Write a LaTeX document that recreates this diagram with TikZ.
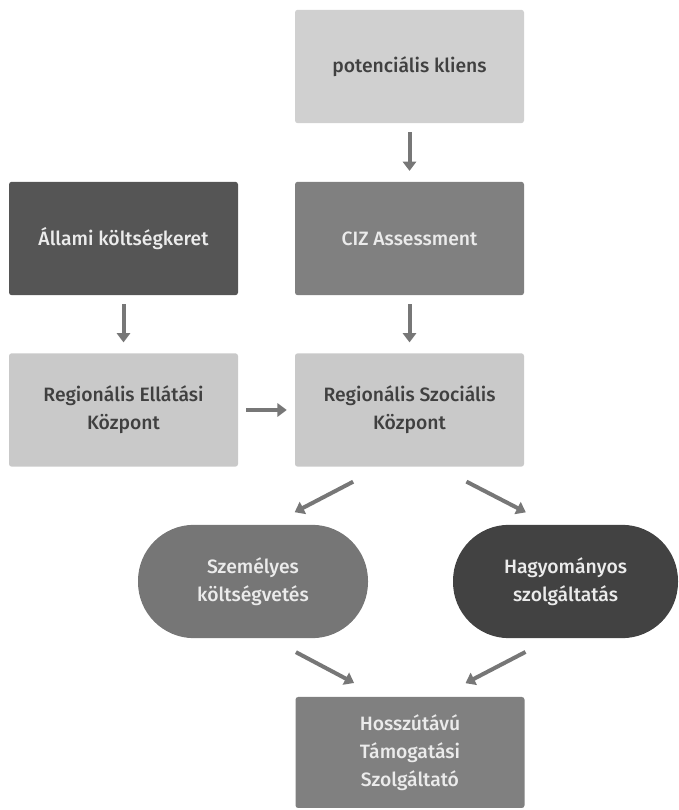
\documentclass[tikz,border=0pt]{standalone}
\usepackage{fontspec}
\setmainfont{Fira Sans}[UprightFont={* Medium}]
\usepackage{xcolor}
\usepackage{tikz}
\usetikzlibrary{arrows.meta,calc}
\definecolor{ClientGray}{RGB}{208,208,208}
\definecolor{PaleGray}{RGB}{201,201,201}
\definecolor{MidGray}{RGB}{128,128,128}
\definecolor{OvalGray}{RGB}{118,118,118}
\definecolor{DarkGray}{RGB}{85,85,85}
\definecolor{CoalGray}{RGB}{66,66,66}
\definecolor{ArrowGray}{RGB}{119,119,119}
\definecolor{InkGray}{RGB}{64,64,64}
\tikzset{
  flowbox/.style={rounded corners=2pt, minimum width=171.75pt, minimum height=85pt,
    inner sep=2pt, align=center, font=\fontsize{14.5}{21}\selectfont},
  lightbox/.style={flowbox, fill=ClientGray, text=InkGray},
  palebox/.style={flowbox, fill=PaleGray, text=InkGray},
  midbox/.style={flowbox, fill=MidGray, text=white!92!black},
  darkbox/.style={flowbox, fill=DarkGray, text=white!92!black},
  pill/.style={flowbox, rounded corners=42pt, text=white!92!black},
  flowarr/.style={-{Triangle[length=7pt,width=10pt]}, line width=3pt, ArrowGray},
}
\begin{document}
\begin{tikzpicture}[x=0.75pt, y=0.75pt]
  \useasboundingbox (0,0) rectangle (678,810);
  % boxes
  \node[lightbox] (kliens) at (409.5,743.5) {potenciális kliens};
  \node[darkbox] (allami) at (123.5,571.5) {Állami költségkeret};
  \node[midbox] (ciz) at (409.5,571.5) {CIZ Assessment};
  \node[palebox] (ellatasi) at (123.5,400) {Regionális Ellátási\\Központ};
  \node[palebox] (szocialis) at (409.5,400) {Regionális Szociális\\Központ};
  \node[pill, fill=OvalGray, minimum width=172.5pt] (szemelyes) at (253,228.5) {Személyes\\költségvetés};
  \node[pill, fill=CoalGray, minimum width=168.75pt] (hagyomanyos) at (565.5,228.5) {Hagyományos\\szolgáltatás};
  \node[midbox, minimum height=83.25pt] (hosszutavu) at (410,57.5) {Hosszútávú\\Támogatási\\Szolgáltató};
  % arrows
  \draw[flowarr, shorten <=6.5pt, shorten >=8pt] (kliens) -- (ciz);
  \draw[flowarr, shorten <=6.5pt, shorten >=8pt] (allami) -- (ellatasi);
  \draw[flowarr, shorten <=6.5pt, shorten >=8pt] (ciz) -- (szocialis);
  \draw[flowarr, shorten <=6pt, shorten >=6pt] (ellatasi) -- (szocialis);
  \draw[flowarr, shorten <=24pt, shorten >=20pt] ($(szocialis.south)+(-28,0)$) -- ($(szemelyes.north)+(18,0)$);
  \draw[flowarr, shorten <=24pt, shorten >=20pt] ($(szocialis.south)+(28.5,0)$) -- ($(hagyomanyos.north)+(-16,0)$);
  \draw[flowarr, shorten <=22pt, shorten >=22pt] ($(szemelyes.south)+(17,0)$) -- ($(hosszutavu.north)+(-30,0)$);
  \draw[flowarr, shorten <=22pt, shorten >=22pt] ($(hagyomanyos.south)+(-14,0)$) -- ($(hosszutavu.north)+(29.5,0)$);
\end{tikzpicture}
\end{document}
